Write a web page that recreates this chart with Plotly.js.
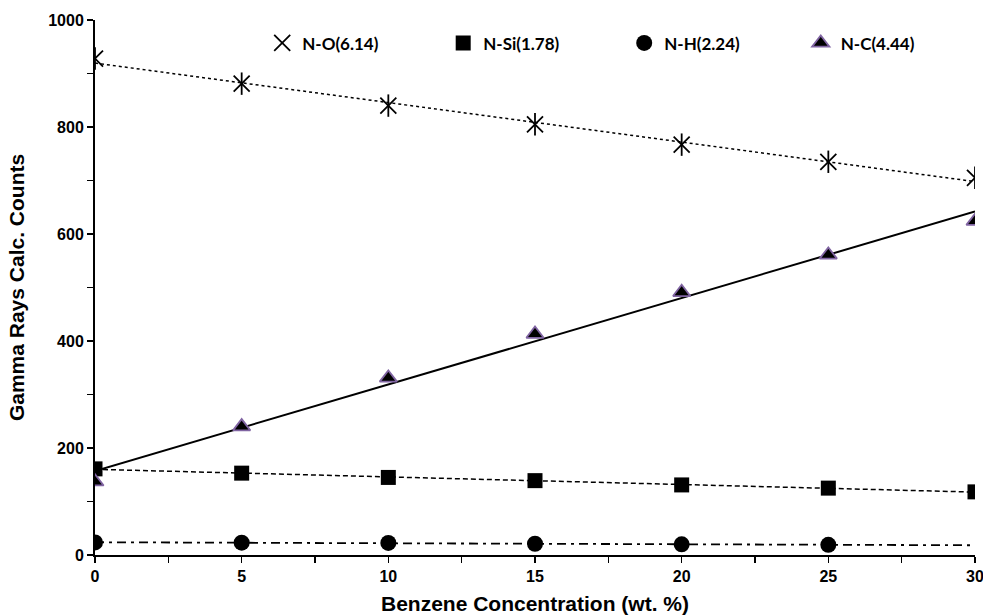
<!DOCTYPE html>
<html>
<head>
<meta charset="utf-8">
<script src="https://cdn.plot.ly/plotly-3.0.1.min.js"></script>
<style>html,body{margin:0;padding:0;background:#fff;}#chart{width:983px;height:615px;}</style>
</head>
<body>
<div id="chart"></div>
<script>
// Data
var concentration = [0, 5, 10, 15, 20, 25, 30];
var nO  = [928, 881, 840, 805, 767, 735, 705];
var nSi = [161, 153, 145, 139, 131, 125, 118];
var nH_x = [0, 5, 10, 15, 20, 25];
var nH  = [23.5, 23, 22.5, 21, 20, 19];
var nC  = [137, 240, 331, 413, 491, 561, 624];
var seriesNames = ['N-O(6.14)', 'N-Si(1.78)', 'N-H(2.24)', 'N-C(4.44)'];
var trendRange = [0, 30];

// least-squares linear trendline (as Excel draws)
function trend(xs, ys) {
  var n = xs.length, sx = 0, sy = 0, sxx = 0, sxy = 0;
  for (var i = 0; i < n; i++) { sx += xs[i]; sy += ys[i]; sxx += xs[i]*xs[i]; sxy += xs[i]*ys[i]; }
  var b = (n*sxy - sx*sy) / (n*sxx - sx*sx);
  var a = (sy - b*sx) / n;
  return trendRange.map(function (x) { return a + b*x; });
}

var purple = 'rgb(128,100,162)';
var traces = [
  {x: trendRange, y: trend(concentration, nO), mode: 'lines', line: {color: 'black', width: 1.5, dash: 'dot'}, showlegend: false, hoverinfo: 'skip'},
  {x: trendRange, y: trend(concentration, nSi), mode: 'lines', line: {color: 'black', width: 1.5, dash: '5px,3px'}, showlegend: false, hoverinfo: 'skip'},
  {x: trendRange, y: trend(nH_x, nH), mode: 'lines', line: {color: 'black', width: 1.8, dash: '9px,5px,3px,5px'}, showlegend: false, hoverinfo: 'skip'},
  {x: trendRange, y: trend(concentration, nC), mode: 'lines', line: {color: 'black', width: 2}, showlegend: false, hoverinfo: 'skip'},
  {x: concentration, y: nO, mode: 'markers', name: seriesNames[0], legendgroup: 'o', legend: 'legend',
   marker: {symbol: 'x-thin-open', size: 16, color: 'black', line: {color: 'black', width: 1.8}}},
  {x: concentration, y: nO, mode: 'markers', name: seriesNames[0], legendgroup: 'o', showlegend: false,
   marker: {symbol: 'line-ns-open', size: 16, color: 'black', line: {color: 'black', width: 1.8}}},
  {x: concentration, y: nSi, mode: 'markers', name: seriesNames[1], legend: 'legend',
   marker: {symbol: 'square', size: 15, color: 'black'}},
  {x: nH_x, y: nH, mode: 'markers', name: seriesNames[2], legend: 'legend',
   marker: {symbol: 'circle', size: 16, color: 'black'}},
  {x: concentration, y: nC, mode: 'markers', name: seriesNames[3], legend: 'legend2',
   marker: {symbol: 'triangle-up', size: 15, color: 'black', line: {color: purple, width: 1.8}}}
];

var tickFont = {family: 'Liberation Sans, Arial, sans-serif', size: 16, color: 'black', weight: 'bold'};
var titleFont = {family: 'Liberation Sans, Arial, sans-serif', size: 21, color: 'black', weight: 'bold'};
var legendFont = {family: 'Lato, sans-serif', size: 17, color: 'black', weight: 'bold'};

var layout = {
  width: 983, height: 615,
  margin: {l: 95, r: 8, t: 20, b: 60},
  paper_bgcolor: 'white', plot_bgcolor: 'white',
  showlegend: true,
  legend: {orientation: 'h', x: 0.19, y: 0.99, xanchor: 'left', yanchor: 'top',
           entrywidth: 136, entrywidthmode: 'pixels', bgcolor: 'rgba(0,0,0,0)', font: legendFont},
  legend2: {orientation: 'h', x: 0.802, y: 0.99, xanchor: 'left', yanchor: 'top',
           bgcolor: 'rgba(0,0,0,0)', font: legendFont},
  xaxis: {range: [0, 30], dtick: 5, tick0: 0, showgrid: false, zeroline: false, ticklabeloverflow: 'allow',
          showline: true, linecolor: 'black', linewidth: 2, ticks: 'outside', ticklen: 6, tickwidth: 1.5, tickcolor: 'black',
          minor: {ticks: 'outside', dtick: 2.5, ticklen: 6, tickwidth: 1.5, tickcolor: 'black', showgrid: false},
          tickfont: tickFont,
          title: {text: 'Benzene Concentration (wt. %)', font: titleFont, standoff: 14}},
  yaxis: {range: [0, 1000], dtick: 200, tick0: 0, showgrid: false, zeroline: false,
          showline: true, linecolor: 'black', linewidth: 2, ticks: 'outside', ticklen: 6, tickwidth: 1.5, tickcolor: 'black',
          minor: {ticks: 'outside', dtick: 100, ticklen: 6, tickwidth: 1.5, tickcolor: 'black', showgrid: false},
          tickfont: tickFont,
          title: {text: 'Gamma Rays Calc. Counts', font: titleFont, standoff: 18}}
};

Plotly.newPlot('chart', traces, layout, {displayModeBar: false, staticPlot: true});
</script>
</body>
</html>
